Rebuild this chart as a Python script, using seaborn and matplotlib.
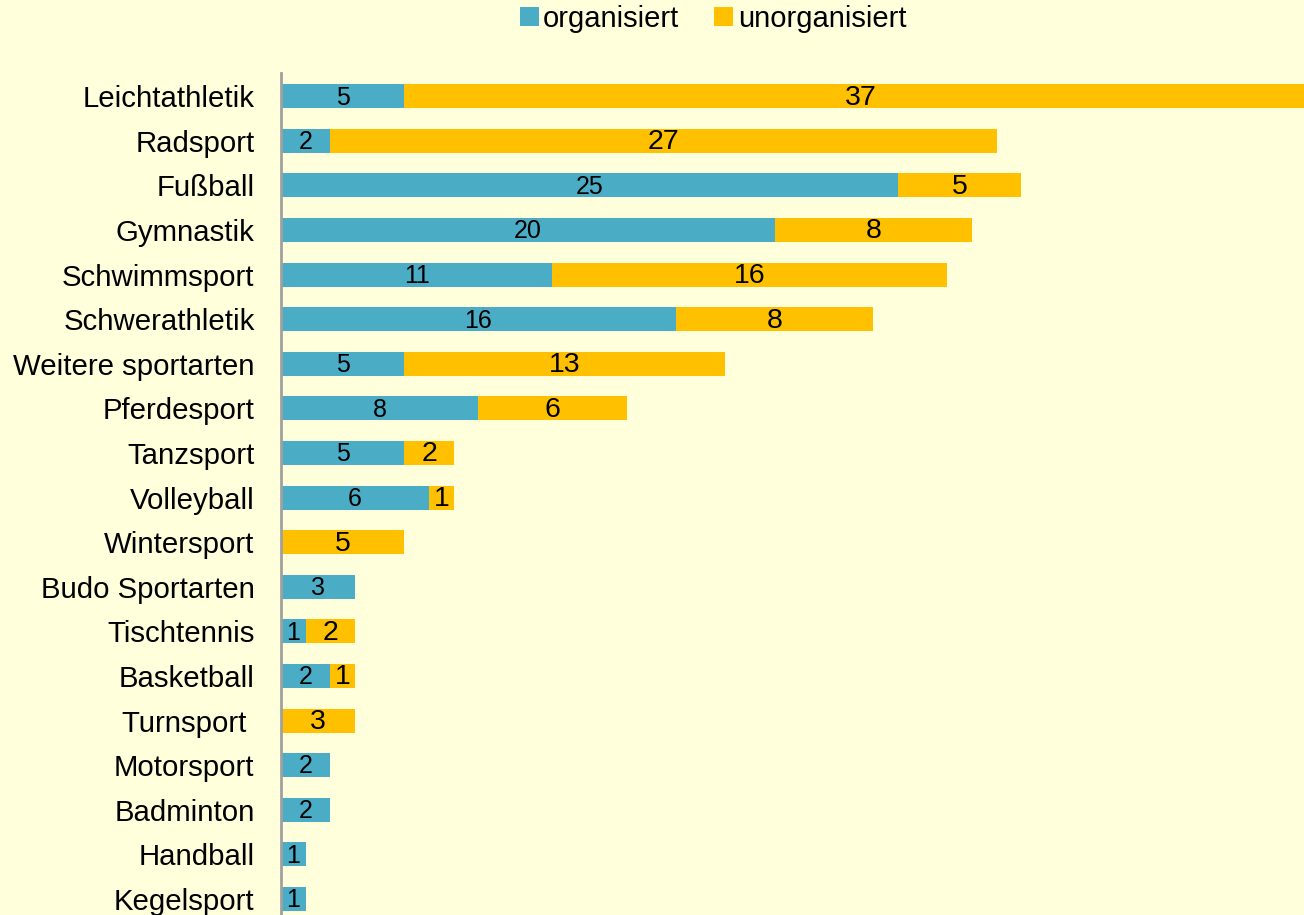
import matplotlib
matplotlib.use("Agg")
import matplotlib.pyplot as plt
import seaborn as sns
import pandas as pd
from matplotlib.patches import Patch

sports = ["Leichtathletik", "Radsport", "Fußball", "Gymnastik", "Schwimmsport",
          "Schwerathletik", "Weitere sportarten", "Pferdesport", "Tanzsport",
          "Volleyball", "Wintersport", "Budo Sportarten", "Tischtennis",
          "Basketball", "Turnsport ", "Motorsport", "Badminton", "Handball",
          "Kegelsport"]
organisiert = [5, 2, 25, 20, 11, 16, 5, 8, 5, 6, 0, 3, 1, 2, 0, 2, 2, 1, 1]
unorganisiert = [37, 27, 5, 8, 16, 8, 13, 6, 2, 1, 5, 0, 2, 1, 3, 0, 0, 0, 0]

blue = "#4BACC6"
yellow = "#FFC000"
bg = "#FFFFDC"

df = pd.DataFrame({"sport": sports, "org": organisiert, "unorg": unorganisiert})
df["total"] = df["org"] + df["unorg"]

sns.set_style("white")
plt.rcParams["font.family"] = ["Liberation Sans", "DejaVu Sans"]

fig = plt.figure(figsize=(13.04, 9.15), dpi=100, facecolor=bg)
ax = fig.add_axes([281 / 1304, 0.0, 1 - 281 / 1304, 1 - 73 / 915])
ax.set_facecolor(bg)

# stacked: total in yellow, organised part drawn on top in blue
sns.barplot(data=df, y="sport", x="total", color=yellow, saturation=1,
            width=0.54, orient="h", linewidth=0, ax=ax)
sns.barplot(data=df, y="sport", x="org", color=blue, saturation=1,
            width=0.54, orient="h", linewidth=0, ax=ax)

for i, row in df.iterrows():
    if row["org"] > 0:
        ax.text(row["org"] / 2, i + 0.03, str(row["org"]), ha="center", va="center",
                fontsize=18, color="black")
    if row["unorg"] > 0:
        ax.text(row["org"] + row["unorg"] / 2, i + 0.03, str(row["unorg"]),
                ha="center", va="center", fontsize=20.5, color="black")

ax.set_xlim(0, 41.45)
ax.set_ylim(18.36, -0.52)
ax.set_xlabel("")
ax.set_ylabel("")
ax.set_xticks([])
ax.tick_params(axis="y", length=0, pad=19, labelsize=21.2, labelcolor="black")
for s in ["top", "right", "bottom"]:
    ax.spines[s].set_visible(False)
ax.spines["left"].set_color("#A0A0A0")
ax.spines["left"].set_linewidth(2)

handles = [Patch(facecolor=blue, edgecolor="none", label="organisiert"),
           Patch(facecolor=yellow, edgecolor="none", label="unorganisiert")]
fig.legend(handles=handles, loc="center", bbox_to_anchor=(713 / 1304, 1 - 19 / 915),
           ncol=2, frameon=False, fontsize=21, handlelength=0.65, handleheight=0.65,
           handletextpad=0.15, columnspacing=1.2, labelcolor="black")

fig.savefig("out.png", dpi=100, facecolor=bg)
